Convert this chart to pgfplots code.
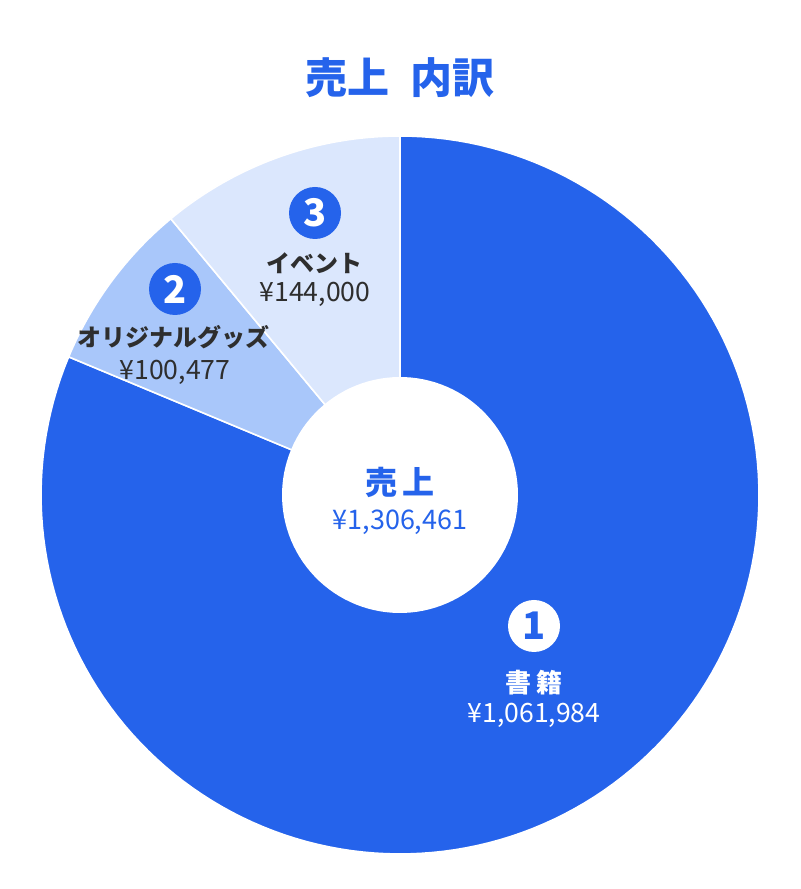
\documentclass[border=0pt]{standalone}
\usepackage{pgfplots}
\usepackage{pgfplotstable}
\pgfplotsset{compat=1.18}
\usepackage{fontspec}
\setmainfont{Noto Sans CJK JP}

\definecolor{mainblue}{HTML}{2563EB}
\definecolor{midblue}{HTML}{A9C7FA}
\definecolor{paleblue}{HTML}{DBE7FD}
\definecolor{labelgray}{HTML}{2E2E2E}

% sales by category (yen)
\pgfplotstableread{
cat     value
books   1061984
goods   100477
event   144000
}\salesdata

\pgfplotstablegetelem{0}{value}\of\salesdata \let\vA\pgfplotsretval
\pgfplotstablegetelem{1}{value}\of\salesdata \let\vB\pgfplotsretval
\pgfplotstablegetelem{2}{value}\of\salesdata \let\vC\pgfplotsretval
\edef\total{\fpeval{\vA+\vB+\vC}}
% slices run clockwise from 12 o'clock
\edef\aA{\fpeval{90-360*\vA/\total}}
\edef\aB{\fpeval{\aA-360*\vB/\total}}

\newcommand{\fs}[1]{\fontsize{#1}{1.2\dimexpr#1\relax}\selectfont}
\tikzset{badge/.style={circle, minimum size=26pt, inner sep=0pt,
    font=\fs{19pt}\bfseries}}

\begin{document}
\begin{tikzpicture}
\begin{axis}[
  scale only axis,
  width=400pt, height=444.5pt,
  xmin=0, xmax=800, ymin=0, ymax=889,
  hide axis, clip=false]

  % keep the full canvas
  \path (axis cs:0,0) rectangle (axis cs:800,889);

  % books
  \addplot[fill=mainblue, draw=white, line width=0.8pt,
           domain=\aA:90, samples=160]
    ({400+359*cos(x)}, {394+359*sin(x)}) -- (axis cs:400,394) -- cycle;
  % goods
  \addplot[fill=midblue, draw=white, line width=0.8pt,
           domain=\aB:\aA, samples=30]
    ({400+359*cos(x)}, {394+359*sin(x)}) -- (axis cs:400,394) -- cycle;
  % event
  \addplot[fill=paleblue, draw=white, line width=0.8pt,
           domain=-270:\aB, samples=40]
    ({400+359*cos(x)}, {394+359*sin(x)}) -- (axis cs:400,394) -- cycle;
  % hole
  \addplot[fill=white, draw=none, domain=0:360, samples=120]
    ({400+118*cos(x)}, {394+118*sin(x)}) -- cycle;

  % title
  \node[font=\fs{21pt}\bfseries, text=mainblue] at (axis cs:400,811)
    {売上\hspace{0.5em}内訳};

  % centre
  \node[font=\fs{16pt}\bfseries, text=mainblue] at (axis cs:400,407) {売\,上};
  \node[font=\fs{13.5pt}, text=mainblue] at (axis cs:400,367) {¥1,306,461};

  % labels
  \node[badge, fill=mainblue, text=white] at (axis cs:315,676) {3};
  \node[font=\fs{12pt}\bfseries, text=labelgray] at (axis cs:314,626) {イベント};
  \node[font=\fs{13.3pt}, text=labelgray] at (axis cs:315,595) {¥144,000};

  \node[badge, fill=mainblue, text=white] at (axis cs:175,600) {2};
  \node[font=\fs{12pt}\bfseries, text=labelgray] at (axis cs:173,552) {オリジナルグッズ};
  \node[font=\fs{13.3pt}, text=labelgray] at (axis cs:175,517) {¥100,477};

  \node[badge, fill=white, text=mainblue] at (axis cs:534,263) {1};
  \node[font=\fs{13pt}\bfseries, text=white] at (axis cs:534,206) {書\,籍};
  \node[font=\fs{13.3pt}, text=white] at (axis cs:534,174) {¥1,061,984};
\end{axis}
\end{tikzpicture}
\end{document}
